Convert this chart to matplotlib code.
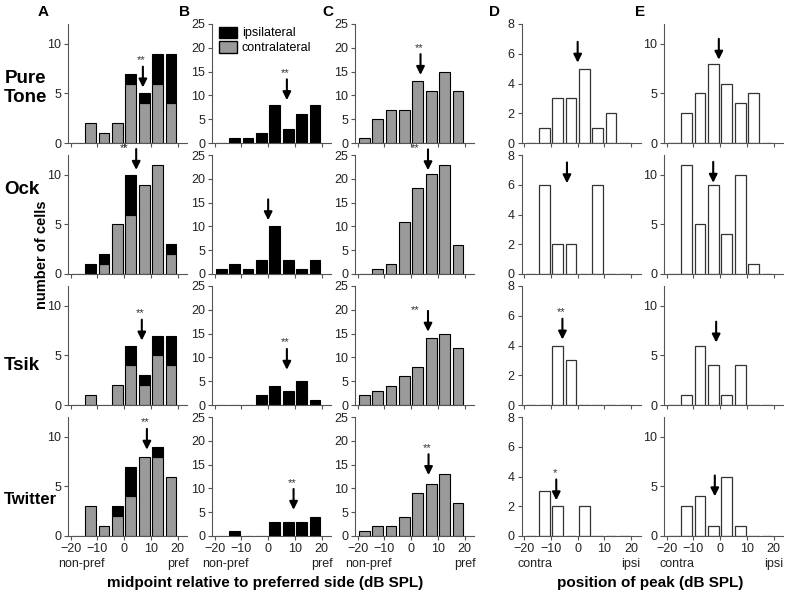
import matplotlib.pyplot as plt
from matplotlib.patches import Patch

plt.rcParams['font.family'] = ['Liberation Sans', 'DejaVu Sans']

# bin centres (dB SPL)
bins = [-17.5, -12.5, -7.5, -2.5, 2.5, 7.5, 12.5, 17.5]
rows = ["Pure\nTone", "Ock", "Tsik", "Twitter"]

# column A: stacked contralateral (gray) + ipsilateral (black)
a_contra = [[0, 2, 1, 2, 6, 4, 6, 4],
            [0, 0, 1, 5, 6, 9, 11, 2],
            [0, 1, 0, 2, 4, 2, 5, 4],
            [0, 3, 1, 2, 4, 8, 8, 6]]
a_ipsi = [[0, 0, 0, 0, 1, 1, 3, 5],
          [0, 1, 1, 0, 4, 0, 0, 1],
          [0, 0, 0, 0, 2, 1, 2, 3],
          [0, 0, 0, 1, 3, 0, 1, 0]]
# column B: ipsilateral only
b_ipsi = [[0, 1, 1, 2, 8, 3, 6, 8],
          [1, 2, 1, 3, 10, 3, 1, 3],
          [0, 0, 0, 2, 4, 3, 5, 1],
          [0, 1, 0, 0, 3, 3, 3, 4]]
# column C: contralateral only
c_contra = [[1, 5, 7, 7, 13, 11, 15, 11],
            [0, 1, 2, 11, 18, 21, 23, 6],
            [2, 3, 4, 6, 8, 14, 15, 12],
            [1, 2, 2, 4, 9, 11, 13, 7]]
# columns D and E: position of peak
d_peak = [[0, 1, 3, 3, 5, 1, 2, 0],
          [0, 6, 2, 2, 0, 6, 0, 0],
          [0, 0, 4, 3, 0, 0, 0, 0],
          [0, 3, 2, 0, 2, 0, 0, 0]]
e_peak = [[0, 3, 5, 8, 6, 4, 5, 0],
          [0, 11, 5, 9, 4, 10, 1, 0],
          [0, 1, 6, 4, 1, 4, 0, 0],
          [0, 3, 4, 1, 6, 1, 0, 0]]

# median arrows: (x, tip y) per row, and significance stars
arrows = {
    'A': [(7, 5.6), (4.5, 10.5), (6.6, 6.5), (8.5, 8.7)],
    'B': [(7, 9), (0, 11.3), (7, 7.4), (9.5, 5.5)],
    'C': [(3.5, 14.3), (6.3, 21.8), (6.3, 15.4), (6.5, 12.8)],
    'D': [(0, 5.4), (-4, 6.1), (-5.7, 4.4), (-8, 2.4)],
    'E': [(-0.5, 8.4), (-2.6, 9.2), (-1.5, 6.3), (-2, 4)],
}
stars = {
    'A': ["**", "**", "**", "**"],
    'B': ["**", "", "**", "**"],
    'C': ["**", "**", "**", "**"],
    'D': ["", "", "**", "*"],
    'E': ["", "", "", ""],
}
star_left = {('A', 1), ('C', 1), ('C', 2)}

gray = '#9a9a9a'
spine_c = '#555555'
W = 787.0
H = 600.0

fig = plt.figure(figsize=(7.87, 6.0), dpi=100)

col_left = {'A': 68, 'B': 212, 'C': 355, 'D': 521.5, 'E': 664}
row_bottom = [143, 274, 405, 536]
ax_w, ax_h = 119, 119
ylims = {'A': (12, [0, 5, 10]), 'B': (25, [0, 5, 10, 15, 20, 25]),
         'C': (25, [0, 5, 10, 15, 20, 25]), 'D': (8, [0, 2, 4, 6, 8]),
         'E': (12, [0, 5, 10])}

for r in range(4):
    for col in 'ABCDE':
        ax = fig.add_axes([col_left[col] / W, 1 - row_bottom[r] / H, ax_w / W, ax_h / H])
        if col == 'A':
            ax.bar(bins, a_contra[r], width=4, color=gray, edgecolor='black', linewidth=0.8)
            for x, b, i in zip(bins, a_contra[r], a_ipsi[r]):
                if i > 0:
                    ax.bar(x, i, bottom=b, width=4, color='black', edgecolor='black', linewidth=0.8)
        elif col == 'B':
            ax.bar(bins, b_ipsi[r], width=4, color='black', edgecolor='black', linewidth=0.8)
        elif col == 'C':
            ax.bar(bins, c_contra[r], width=4, color=gray, edgecolor='black', linewidth=0.8)
        else:
            vals = d_peak[r] if col == 'D' else e_peak[r]
            ax.bar(bins, vals, width=4, color='white', edgecolor='#333333', linewidth=0.9)

        ymax, yt = ylims[col]
        ax.set_ylim(0, ymax)
        ax.set_yticks(yt)
        ax.set_xlim(-21, 23.5)
        ax.set_xticks([-20, -10, 0, 10, 20])
        for s in ['top', 'right']:
            ax.spines[s].set_visible(False)
        for s in ['left', 'bottom']:
            ax.spines[s].set_color(spine_c)
            ax.spines[s].set_linewidth(0.8)
        ax.tick_params(colors=spine_c, labelcolor='#222222', labelsize=9,
                       length=3, width=0.8, direction='out', pad=2)
        if r < 3:
            ax.set_xticklabels([])
        else:
            if col in 'DE':
                lab = ('contra', 'ipsi')
            else:
                lab = ('non-pref', 'pref')
            for x, t in zip([-16, 20], lab):
                ax.annotate(t, xy=(x, 0), xycoords=('data', 'axes fraction'),
                            xytext=(0, -16), textcoords='offset points',
                            ha='center', va='top', fontsize=9, color='#222222')

        ax_x, tip = arrows[col][r]
        ax.annotate('', xy=(ax_x, tip), xycoords='data',
                    xytext=(0, 15), textcoords='offset points',
                    arrowprops=dict(arrowstyle='-|>', color='black', lw=1.5,
                                    mutation_scale=12, shrinkA=0, shrinkB=0))
        st = stars[col][r]
        if st:
            if (col, r) in star_left:
                off = (-9, 12)
            else:
                off = (-1, 16)
            ax.annotate(st, xy=(ax_x, tip), xytext=off, textcoords='offset points',
                        ha='center', va='bottom', fontsize=8, color='#333333')

        if r == 0 and col == 'B':
            handles = [Patch(facecolor='black', edgecolor='black'),
                       Patch(facecolor=gray, edgecolor='black')]
            ax.legend(handles, ['ipsilateral', 'contralateral'], loc='upper left',
                      bbox_to_anchor=(0.02, 1.02), frameon=False, fontsize=9,
                      handlelength=1.4, handleheight=1.0, handletextpad=0.4,
                      labelspacing=0.15, borderaxespad=0)

# column letters
for col, x in zip('ABCDE', [43, 184, 328, 494, 640]):
    fig.text(x / W, 1 - 12 / H, col, fontsize=11, fontweight='bold', ha='center', va='center')

# row labels
for lab, y, fs in zip(rows, [88, 190, 365, 500], [13.5, 13.5, 13.5, 12]):
    fig.text(4 / W, 1 - y / H, lab, fontsize=fs, fontweight='bold', ha='left', va='center',
             multialignment='center', linespacing=1.15)

fig.text(42 / W, 1 - 255 / H, 'number of cells', rotation=90, fontsize=10.5,
         fontweight='bold', ha='center', va='center')
fig.text(265 / W, 1 - 583 / H, 'midpoint relative to preferred side (dB SPL)',
         fontsize=11, fontweight='bold', ha='center', va='center')
fig.text(650 / W, 1 - 583 / H, 'position of peak (dB SPL)',
         fontsize=11, fontweight='bold', ha='center', va='center')

fig.savefig('out.png', dpi=100)
